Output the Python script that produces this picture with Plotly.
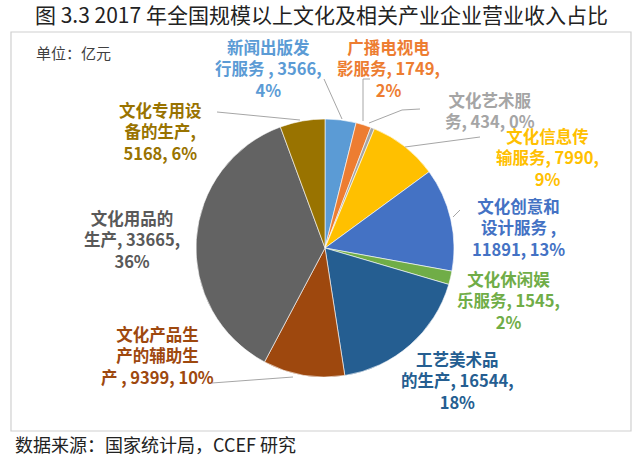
import plotly.graph_objects as go

W, H = 640, 458

# ---- data ----
names = ["新闻出版发行服务", "广播电视电影服务", "文化艺术服务", "文化信息传输服务",
         "文化创意和设计服务", "文化休闲娱乐服务", "工艺美术品的生产",
         "文化产品生产的辅助生产", "文化用品的生产", "文化专用设备的生产"]
values = [3566, 1749, 434, 7990, 11891, 1545, 16544, 9399, 33665, 5168]
pcts = [4, 2, 0, 9, 13, 2, 18, 10, 36, 6]
colors = ["#5B9BD5", "#ED7D31", "#A5A5A5", "#FFC000", "#4472C4",
          "#70AD47", "#255E91", "#9E480E", "#636363", "#997300"]
label_colors = ["#5B9BD5", "#ED7D31", "#A5A5A5", "#FFC000", "#4472C4",
                "#70AD47", "#255E91", "#9E480E", "#595959", "#997300"]
# label layout templates ({a}: first 5 chars of name, {b}: rest)
label_templates = [
    "{a}<br>{b} , {v},<br>{p}%",
    "{a}<br>{b}, {v},<br>{p}%",
    "{a}<br>{b}, {v}, {p}%",
    "{a}<br>{b}, {v},<br>{p}%",
    "{a}<br>{b} ,<br>{v}, {p}%",
    "{a}<br>{b}, {v},<br>{p}%",
    "{a}<br>{b}, {v},<br>{p}%",
    "{a}<br>{b5}<br>{c} , {v}, {p}%",
    "{a}<br>{b}, {v},<br>{p}%",
    "{a}<br>{b},<br>{v}, {p}%",
]
title_text = "图 3.3 2017 年全国规模以上文化及相关产业企业营业收入占比"
unit_text = "单位：亿元"
source_text = "数据来源：国家统计局，CCEF 研究"

# ---- layout helpers (pixel -> paper) ----
def px(x):
    return x / W

def py(y):
    return 1 - y / H

# label centre positions (pixels)
label_pos = [(268, 69), (388, 69), (490, 110), (547, 157), (518, 227),
             (508, 300), (457, 380), (157, 355), (132, 239), (160, 131)]
# leader lines (pixel paths)
leaders = [
    [(324, 79), (342, 119)],
    [(370, 79), (363, 79), (363, 121)],
    [(420, 109), (402, 110), (369, 123)],
    [(405, 147), (480, 137)],
    [(453, 217), (460, 210)],
    [(217, 112), (300, 120)],
    [(212, 383), (293, 377)],
]

FONT = "Noto Sans CJK SC"

fig = go.Figure()
fig.add_trace(go.Pie(
    labels=names, values=values, sort=False, direction="clockwise", rotation=0,
    marker=dict(colors=colors, line=dict(color="white", width=0.6)),
    textinfo="none", showlegend=False,
    domain=dict(x=[px(196), px(454)], y=[py(377), py(119)]),
))

annotations = []
for i, n in enumerate(names):
    t = label_templates[i].format(a=n[:5], b=n[5:], b5=n[5:10], c=n[10:],
                                  v=values[i], p=pcts[i])
    x, y = label_pos[i]
    annotations.append(dict(
        x=px(x), y=py(y), xref="paper", yref="paper", text="<b>" + t + "</b>",
        showarrow=False, xanchor="center", yanchor="middle", align="center",
        font=dict(family=FONT, size=16.5, color=label_colors[i])))

annotations.append(dict(x=px(321), y=py(14), xref="paper", yref="paper",
                        text=title_text, showarrow=False, xanchor="center",
                        yanchor="middle", font=dict(family=FONT, size=21, color="#222222")))
annotations.append(dict(x=px(34), y=py(52), xref="paper", yref="paper",
                        text=unit_text, showarrow=False, xanchor="left",
                        yanchor="middle", font=dict(family=FONT, size=15, color="#404040")))
annotations.append(dict(x=px(13), y=py(444), xref="paper", yref="paper",
                        text=source_text, showarrow=False, xanchor="left",
                        yanchor="middle", font=dict(family=FONT, size=18, color="#222222")))

shapes = [dict(type="rect", xref="paper", yref="paper", x0=px(11), x1=px(631),
               y0=py(431), y1=py(32), line=dict(color="#D0D0D0", width=1.2),
               fillcolor="rgba(0,0,0,0)", layer="below")]
for path in leaders:
    d = "M " + " L ".join(f"{px(x)},{py(y)}" for x, y in path)
    shapes.append(dict(type="path", xref="paper", yref="paper", path=d,
                       line=dict(color="#A6A6A6", width=1)))

fig.update_layout(width=W, height=H, margin=dict(l=0, r=0, t=0, b=0),
                  paper_bgcolor="white", plot_bgcolor="white",
                  annotations=annotations, shapes=shapes)
fig.write_html("out.html", config={"displayModeBar": False},
               post_script="document.body.style.margin='0';document.body.style.overflow='hidden';")
